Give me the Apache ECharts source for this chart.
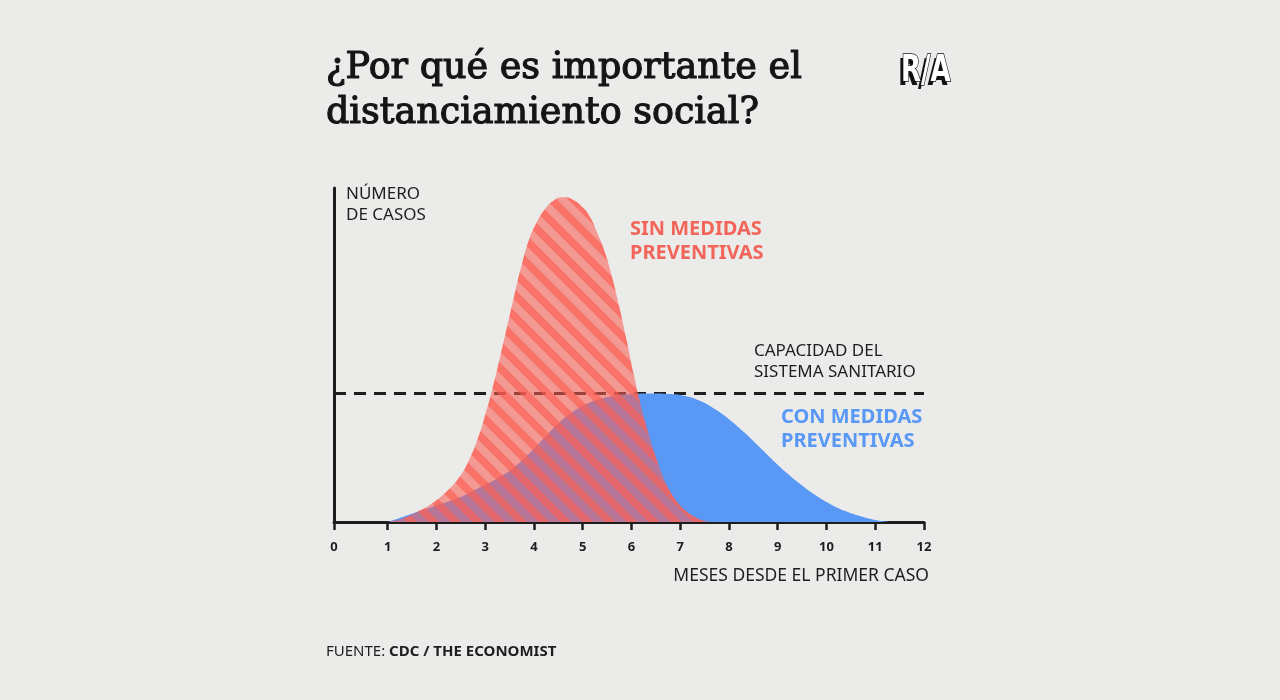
<!DOCTYPE html>
<html>
<head>
<meta charset="utf-8">
<script src="https://cdn.jsdelivr.net/npm/echarts@6/dist/echarts.min.js"></script>
<style>
html,body{margin:0;padding:0;background:#ebebea;}
#chart{width:1280px;height:700px;}
</style>
</head>
<body>
<div id="chart"></div>
<script>
// ---- Data ----
const monthsBlue = [1.0, 1.5, 2.0, 2.5, 2.9, 3.3, 3.6, 3.9, 4.2, 4.5, 4.8, 5.1, 5.4, 5.7, 6.0, 6.4, 6.8, 7.1, 7.4, 7.7, 8.0, 8.3, 8.6, 8.9, 9.2, 9.5, 9.8, 10.1, 10.4, 10.7, 11.0, 11.3];
const casesBlue  = [0, 2.5, 5, 7.5, 10.5, 13.5, 16.5, 20.5, 25, 29.5, 33, 35.5, 37, 37.9, 38.3, 38.5, 38.3, 37.7, 36.3, 33.9, 30.8, 27.0, 22.8, 18.5, 14.5, 10.9, 7.8, 5.2, 3.2, 1.7, 0.6, 0];
const monthsRed  = [1.0, 1.3, 1.6, 1.9, 2.2, 2.45, 2.65, 2.85, 3.0, 3.15, 3.3, 3.45, 3.6, 3.75, 3.9, 4.05, 4.2, 4.4, 4.6, 4.8, 5.0, 5.15, 5.3, 5.45, 5.6, 5.75, 5.9, 6.05, 6.2, 6.35, 6.5, 6.65, 6.8, 6.95, 7.1, 7.3, 7.5, 7.7];
const casesRed   = [0, 1, 3, 5.5, 9, 13, 18, 25, 32, 40, 49, 58.5, 68, 77, 84.5, 89.5, 93.2, 96.2, 97.2, 96.5, 94.2, 91.3, 86.5, 81, 73.5, 64.5, 54.5, 44, 34.5, 26.5, 19.5, 13.5, 9, 5.8, 3.5, 1.5, 0.4, 0];
const capacity = 38.5;
const xTickValues = [1, 2, 3, 4, 5, 6, 7, 8, 9, 10, 11, 12];
const xStart = -0.1; // axis origin, labelled "0"

const pair = (xs, ys) => xs.map((x, i) => [x, ys[i]]);

// diagonal striped pattern for the red area
function stripePattern() {
  const s = 22;
  const c = document.createElement('canvas');
  c.width = s; c.height = s;
  const g = c.getContext('2d');
  g.fillStyle = 'rgba(251,94,82,0.57)';
  g.fillRect(0, 0, s, s);
  g.strokeStyle = 'rgba(251,94,82,0.66)';
  g.lineWidth = s / (2 * Math.SQRT2);
  for (let k = -1; k <= 1; k++) {
    g.beginPath();
    g.moveTo(-s, -s + k * s);
    g.lineTo(2 * s, 2 * s + k * s);
    g.stroke();
  }
  return c;
}

const chart = echarts.init(document.getElementById('chart'), null, {renderer: 'canvas'});
const sans = '"Noto Sans", "Open Sans", sans-serif';
const ink = '#1e1e1e';
const titleFont = '36.5px "DejaVu Serif", serif';

chart.setOption({
  backgroundColor: '#ebebea',
  animation: false,
  grid: {left: 334, right: 356, top: 188, bottom: 178, containLabel: false},
  xAxis: {
    type: 'value', min: xStart, max: 12,
    axisLine: {show: true, lineStyle: {color: ink, width: 3}},
    axisTick: {show: true, length: 8, lineStyle: {color: ink, width: 2.5}, customValues: [xStart].concat(xTickValues)},
    axisLabel: {show: true, customValues: [xStart].concat(xTickValues), formatter: v => (v < 0 ? '0' : String(v)),
      margin: 19, color: ink, fontFamily: sans, fontWeight: 'bold', fontSize: 13},
    splitLine: {show: false}
  },
  yAxis: {
    type: 'value', min: 0, max: 100,
    axisLine: {show: true, onZero: false, lineStyle: {color: ink, width: 3}},
    axisTick: {show: false}, axisLabel: {show: false}, splitLine: {show: false}
  },
  series: [
    {
      type: 'line', name: 'capacidad', data: [[xStart, capacity], [12, capacity]],
      showSymbol: false, z: 1,
      lineStyle: {color: ink, width: 3, type: [12, 8]}
    },
    {
      type: 'line', name: 'Con medidas', data: pair(monthsBlue, casesBlue),
      smooth: 0.5, showSymbol: false, z: 2,
      lineStyle: {width: 0}, areaStyle: {color: '#5a98f5', opacity: 1}
    },
    {
      type: 'line', name: 'Sin medidas', data: pair(monthsRed, casesRed),
      smooth: 0.5, showSymbol: false, z: 3,
      lineStyle: {width: 0}, areaStyle: {color: {image: stripePattern(), repeat: 'repeat'}, opacity: 1}
    }
  ],
  graphic: [
    {type: 'text', x: 326, y: 69, style: {text: '¿Por qué es importante el', font: titleFont, fill: '#151515', stroke: '#151515', lineWidth: 1.2, verticalAlign: 'middle'}},
    {type: 'text', x: 326, y: 114, style: {text: 'distanciamiento social?', font: titleFont, fill: '#151515', stroke: '#151515', lineWidth: 1.2, verticalAlign: 'middle'}},
    // logo
    {type: 'text', x: 898, y: 75, scaleX: 0.78, style: {text: 'R/A', font: 'bold 37px "DejaVu Sans Condensed", sans-serif', fill: '#111', verticalAlign: 'middle'}},
    {type: 'text', x: 901, y: 71, scaleX: 0.78, style: {text: 'R/A', font: 'bold 37px "DejaVu Sans Condensed", sans-serif', fill: '#fff', stroke: '#111', lineWidth: 1.5, verticalAlign: 'middle'}},
    {type: 'text', x: 346, y: 205, style: {text: 'NÚMERO\nDE CASOS', font: '17px ' + sans, fill: ink, lineHeight: 21, verticalAlign: 'middle'}},
    {type: 'text', x: 630, y: 241, style: {text: 'SIN MEDIDAS\nPREVENTIVAS', font: 'bold 20px ' + sans, fill: '#f2655a', lineHeight: 24, verticalAlign: 'middle'}},
    {type: 'text', x: 754, y: 362, style: {text: 'CAPACIDAD DEL\nSISTEMA SANITARIO', font: '17px ' + sans, fill: ink, lineHeight: 21, verticalAlign: 'middle'}},
    {type: 'text', x: 781, y: 429, style: {text: 'CON MEDIDAS\nPREVENTIVAS', font: 'bold 20px ' + sans, fill: '#5a98f5', lineHeight: 24, verticalAlign: 'middle'}},
    {type: 'text', x: 929, y: 576, style: {text: 'MESES DESDE EL PRIMER CASO', font: '17.5px ' + sans, fill: ink, align: 'right', verticalAlign: 'middle'}},
    {type: 'text', x: 326, y: 652, style: {
      text: '{r|FUENTE: }{b|CDC / THE ECONOMIST}', verticalAlign: 'middle',
      rich: {r: {font: '15px ' + sans, fill: ink}, b: {font: 'bold 15px ' + sans, fill: ink}}
    }}
  ]
});
</script>
</body>
</html>
